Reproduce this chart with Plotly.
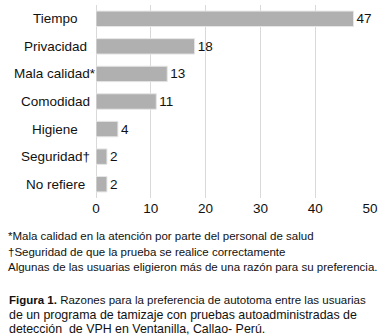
import plotly.graph_objects as go

categories = ["Tiempo", "Privacidad", "Mala calidad*", "Comodidad", "Higiene", "Seguridad†", "No refiere"]
values = [47, 18, 13, 11, 4, 2, 2]
x_ticks = [0, 10, 20, 30, 40, 50]

footnotes = [
    "*Mala calidad en la atención por parte del personal de salud",
    "†Seguridad de que la prueba se realice correctamente",
    "Algunas de las usuarias eligieron más de una razón para su preferencia.",
]
caption = [
    "<b>Figura 1.</b> Razones para la preferencia de autotoma entre las usuarias",
    "de un programa de tamizaje con pruebas autoadministradas de",
    "detección  de VPH en Ventanilla, Callao- Perú.",
]
caption_sizes = [11.5, 12.4, 12.4]

W, H = 381, 336
L, R, T, B = 96, 11, 5, 138
ph = H - T - B
pw = W - L - R

def py(p):
    return (H - B - p) / ph

def px(p):
    return (p - L) / pw

FONT = "Liberation Sans, Arial"

fig = go.Figure(go.Bar(
    x=values, y=categories, orientation="h",
    marker=dict(color="#b0b0b0", line=dict(color="#e6e6e6", width=1)),
    width=0.56,
    text=[str(v) for v in values], textposition="outside",
    textfont=dict(family=FONT, size=13.5, color="#111111"),
    constraintext="none",
    cliponaxis=False,
    hoverinfo="skip",
))

ann = []
# category labels, centred in the left margin
for c in categories:
    ann.append(dict(text=c, x=px(55.5), xref="paper", xanchor="center",
                    y=c, yref="y", yanchor="middle", showarrow=False,
                    font=dict(family=FONT, size=13.5, color="#111111")))
for i, t in enumerate(footnotes):
    ann.append(dict(text=t, x=px(6), xref="paper", xanchor="left",
                    y=py(236 + i * 15.5), yref="paper", yanchor="middle", showarrow=False,
                    font=dict(family=FONT, size=11.5, color="#111111")))
for i, t in enumerate(caption):
    ann.append(dict(text=t, x=px(7), xref="paper", xanchor="left",
                    y=py(300 + i * 14.5), yref="paper", yanchor="middle", showarrow=False,
                    font=dict(family=FONT, size=caption_sizes[i], color="#111111")))

fig.update_layout(
    width=W, height=H,
    margin=dict(l=L, r=R, t=T, b=B, autoexpand=False),
    paper_bgcolor="white", plot_bgcolor="white",
    showlegend=False,
    font=dict(family=FONT, size=13.5, color="#111111"),
    xaxis=dict(range=[0, 50], tickvals=x_ticks, showgrid=True, gridcolor="#d9d9d9", gridwidth=1,
               zeroline=True, zerolinecolor="#d9d9d9", zerolinewidth=1, automargin=False,
               showline=False, ticks="", tickfont=dict(size=13.5)),
    yaxis=dict(categoryorder="array", categoryarray=categories[::-1], autorange=True,
               showgrid=False, ticks="", showticklabels=False, automargin=False),
    annotations=ann,
)

fig.write_html("out.html", config={"displayModeBar": False},
               post_script="document.body.style.margin='0';document.body.style.overflow='hidden';")
